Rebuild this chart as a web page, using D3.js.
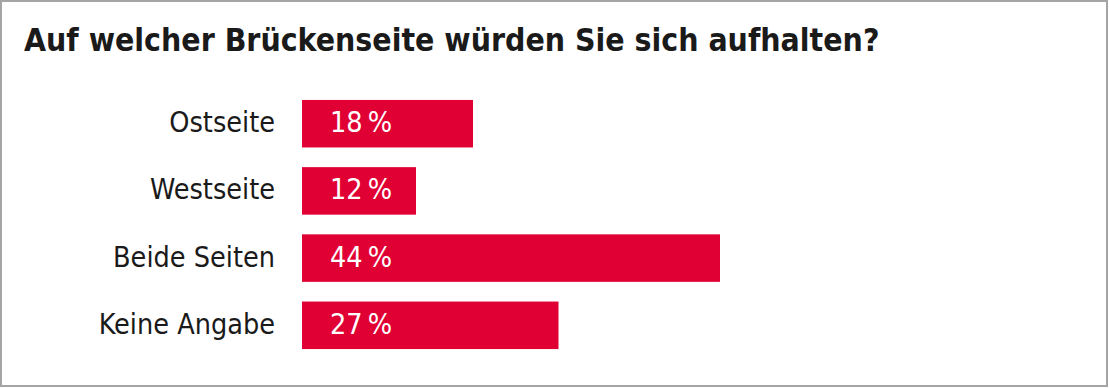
<!DOCTYPE html>
<html>
<head>
<meta charset="utf-8">
<script src="https://d3js.org/d3.v7.min.js"></script>
<style>
  body { margin: 0; background: #fff; }
  svg { display: block; }
</style>
</head>
<body>
<svg width="1109" height="388" id="chart"></svg>
<script>

var title = "Auf welcher Brückenseite würden Sie sich aufhalten?";
var categories = ["Ostseite", "Westseite", "Beide Seiten", "Keine Angabe"];
var values = [18, 12, 44, 27];

var svg = d3.select('#chart'),
    width = +svg.attr("width"),
    height = +svg.attr("height");

var font = "'DejaVu Sans Condensed', 'DejaVu Sans', sans-serif";

// frame
svg.append("rect")
    .attr("x", 1).attr("y", 1)
    .attr("width", width - 3).attr("height", height - 3)
    .style("fill", "#fff")
    .style("stroke", "#a5a5a5")
    .style("stroke-width", 2);

svg.append("text")
    .attr("x", 24)
    .attr("y", 51)
    .style("font-family", font)
    .style("font-weight", "bold")
    .style("font-size", "31.7px")
    .style("fill", "#1a1a1a")
    .text(title);

var x = d3.scaleLinear()
    .domain([0, 44])
    .range([302, 720]);

var y = d3.scaleBand()
    .domain(categories)
    .range([86.5, 362.5])
    .paddingInner(0.293)
    .paddingOuter(0.2);

var data = categories.map(function(c, i){ return {cat: c, val: values[i]}; });

var rows = svg.append("g").selectAll("g")
    .data(data)
    .enter().append("g");

rows.append("rect")
    .attr("x", x(0))
    .attr("y", function(d){ return y(d.cat); })
    .attr("width", function(d){ return x(d.val) - x(0); })
    .attr("height", y.bandwidth())
    .style("fill", "#e00034");

rows.append("text")
    .attr("x", 275)
    .attr("y", function(d){ return y(d.cat) + y.bandwidth() / 2; })
    .attr("dy", "0.3em")
    .attr("text-anchor", "end")
    .style("font-family", font)
    .style("font-size", "28.5px")
    .style("fill", "#1a1a1a")
    .text(function(d){ return d.cat; });

rows.append("text")
    .attr("x", 330)
    .attr("y", function(d){ return y(d.cat) + y.bandwidth() / 2; })
    .attr("dy", "0.3em")
    .style("font-family", font)
    .style("font-size", "28.5px")
    .style("fill", "#fff")
    .text(function(d){ return d.val + "\u2009%"; });

</script>
</body>
</html>
